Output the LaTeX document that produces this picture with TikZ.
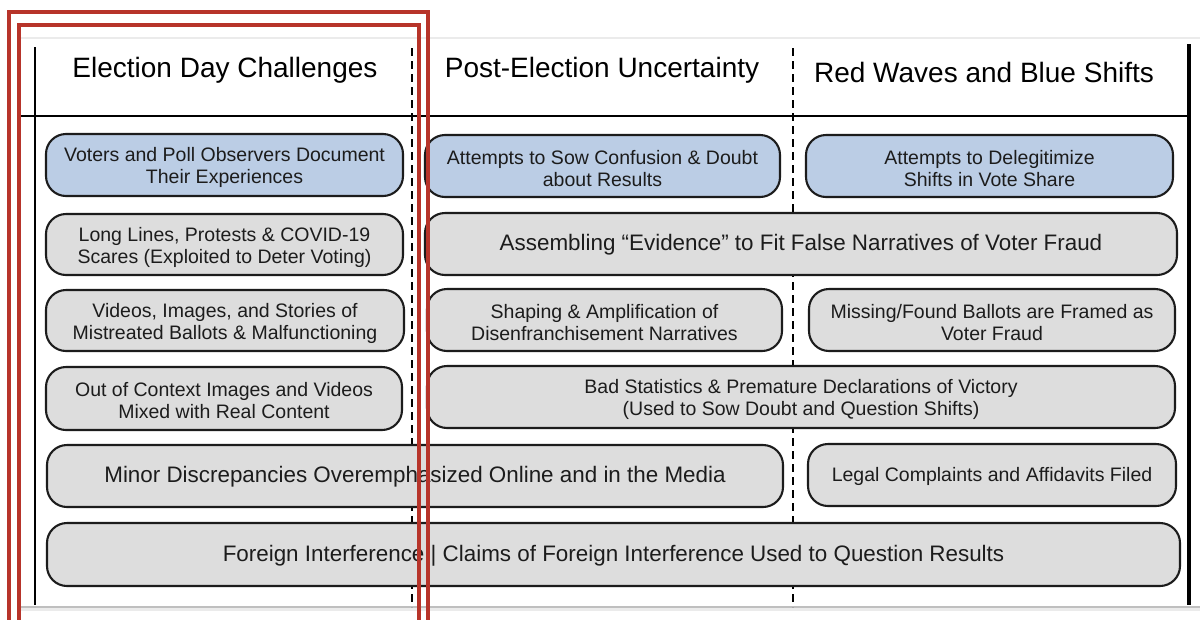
\documentclass[tikz,border=0pt]{standalone}
\usepackage{fontspec}
\setmainfont{Liberation Sans}
\definecolor{boxblue}{RGB}{187,205,229}
\definecolor{boxgray}{RGB}{221,221,221}
\definecolor{inkdark}{RGB}{28,28,28}
\definecolor{framered}{RGB}{183,52,42}
\tikzset{
  card/.style={draw=inkdark, line width=2.1pt, rounded corners=20pt,
    inner sep=0pt, fill=boxgray},
  bluecard/.style={card, fill=boxblue},
  cardtext/.style={align=center, inner sep=0pt, text=inkdark,
    font=\fontsize{19.5}{22}\selectfont},
  widetext/.style={cardtext, font=\fontsize{22.4}{25}\selectfont},
  header/.style={font=\fontsize{28}{30}\selectfont, text=black},
  divider/.style={line width=2pt, dash pattern=on 8pt off 5pt, black},
  rule/.style={line width=2pt, black},
  highlight/.style={draw=framered, line width=3.6pt}
}
\begin{document}
\begin{tikzpicture}[x=1pt,y=-1pt]
\useasboundingbox (0,0) rectangle (1200,619);
\fill[white] (0,0) rectangle (1200,619);

% page edges
\draw[black!8, line width=1.5pt] (20,38) -- (1200,38);
\fill[black!25] (20,605.5) rectangle (1200,608);
\fill[black!8] (20,608) rectangle (1200,611);

% column grid
\coordinate (lt) at (35,47);   \coordinate (lb) at (35,605);
\coordinate (rt) at (1189,44); \coordinate (rb) at (1189,605);
\coordinate (hl) at (20,116);  \coordinate (hr) at (1190,116);
\coordinate (d1t) at (412,48); \coordinate (d1b) at (412,607);
\coordinate (d2t) at (793,48); \coordinate (d2b) at (793,607);
\draw[rule] (lt) -- (lb);
\draw[line width=4pt] (rt) -- (rb);
\draw[rule] (hl) -- (hr);
\draw[divider] (d1t) -- (d1b);
\draw[divider] (d2t) -- (d2b);

% column headers
\node[header] (h1) at (225,70) {Election Day Challenges};
\node[header] (h2) at (602,70) {Post-Election Uncertainty};
\node[header] (h3) at (984,72) {Red Waves and Blue Shifts};

% row 1
\node[bluecard, minimum width=357pt, minimum height=62pt] (v1) at (224.5,165) {};
\node[cardtext] (v1t) at ([yshift=-2.5pt]v1.center)
  {Voters and Poll Observers Document\\Their Experiences};
\node[bluecard, minimum width=355pt, minimum height=62pt] (c1) at (602.5,166) {};
\node[cardtext] (c1t) at ([yshift=-2.5pt]c1.center)
  {Attempts to Sow Confusion \& Doubt\\about Results};
\node[bluecard, minimum width=367pt, minimum height=62pt] (d1) at (989.5,166) {};
\node[cardtext] (d1t) at ([yshift=-2.5pt]d1.center)
  {Attempts to Delegitimize\\Shifts in Vote Share};

% row 2
\node[card, minimum width=357pt, minimum height=61pt] (l2) at (224.5,244.5) {};
\node[cardtext] (l2t) at ([yshift=-2.5pt]l2.center)
  {Long Lines, Protests \& COVID-19\\Scares (Exploited to Deter Voting)};
\node[card, minimum width=752pt, minimum height=62pt] (a2) at (801,244) {};
\node[widetext] (a2t) at ([yshift=-1pt]a2.center)
  {Assembling “Evidence” to Fit False Narratives of Voter Fraud};

% row 3
\node[card, minimum width=358pt, minimum height=61pt] (l3) at (225,320.5) {};
\node[cardtext] (l3t) at ([yshift=-2.5pt]l3.center)
  {Videos, Images, and Stories of\\Mistreated Ballots \& Malfunctioning};
\node[card, minimum width=355pt, minimum height=62pt] (s3) at (604.5,320) {};
\node[cardtext] (s3t) at ([yshift=-2.5pt]s3.center)
  {Shaping \& Amplification of\\Disenfranchisement Narratives};
\node[card, minimum width=366pt, minimum height=62pt] (m3) at (992,320) {};
\node[cardtext] (m3t) at ([yshift=-2.5pt]m3.center)
  {Missing/Found Ballots are Framed as\\Voter Fraud};

% row 4
\node[card, minimum width=356pt, minimum height=63pt] (l4) at (224,398.5) {};
\node[cardtext] (l4t) at ([yshift=-2.5pt]l4.center)
  {Out of Context Images and Videos\\Mixed with Real Content};
\node[card, minimum width=748pt, minimum height=62pt] (b4) at (801,397) {};
\node[cardtext] (b4t) at ([yshift=-2.5pt]b4.center)
  {Bad Statistics \& Premature Declarations of Victory\\(Used to Sow Doubt and Question Shifts)};

% row 5
\node[card, minimum width=736pt, minimum height=62pt] (r5a) at (415,476) {};
\node[widetext] (r5at) at ([yshift=-1pt]r5a.center)
  {Minor Discrepancies Overemphasized Online and in the Media};
\node[card, minimum width=368pt, minimum height=62pt] (r5b) at (992,475) {};
\node[cardtext] (r5bt) at ([yshift=-1pt]r5b.center)
  {Legal Complaints and Affidavits Filed};

% row 6
\node[card, minimum width=1133pt, minimum height=63pt] (r6) at (613.5,554.5) {};
\node[widetext] (r6t) at ([yshift=-1pt]r6.center)
  {Foreign Interference | Claims of Foreign Interference Used to Question Results};

% highlight frames around the first column
\draw[highlight] (428,640) -- (428,12) -- (9,12) -- (9,640);
\draw[highlight] (419,640) -- (419,25) -- (19,25) -- (19,640);
\end{tikzpicture}
\end{document}
